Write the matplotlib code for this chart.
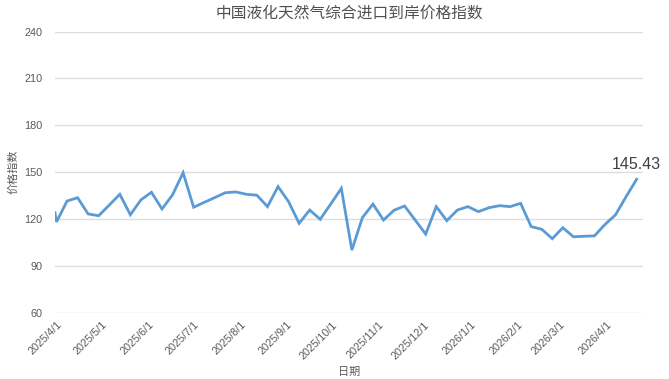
import matplotlib
matplotlib.use("Agg")
import matplotlib.pyplot as plt
import numpy as np
import pandas as pd

# weekly index values
first_date = "2025-03-31"
week_start = "2025-04-01"
first_value = 124.0
weekly_values = [
    118.1, 131.5, 133.6, 123.2, 122.1, 128.9, 135.8, 122.7, 132.2, 137.1,
    126.4, 135.4, 149.6, 127.5, 130.6, 133.7, 136.8, 137.3, 135.8, 135.2,
    127.9, 140.7, 131.1, 117.2, 125.7, 119.8, 129.6, 139.6, 100.1, 120.9,
    129.5, 119.3, 125.6, 128.3, 119.3, 110.3, 127.9, 118.9, 125.7, 127.9,
    124.7, 127.2, 128.5, 127.9, 130.0, 115.1, 113.4, 107.4, 114.4, 108.6,
    108.9, 109.2, 116.5, 122.7, 134.3, 145.43,
]
tick_dates = pd.date_range("2025-04-01", "2026-04-01", freq="MS")
y_ticks = [60, 90, 120, 150, 180, 210, 240]

dates = [pd.Timestamp(first_date)] + list(
    pd.date_range(week_start, periods=len(weekly_values), freq="7D"))
values = [first_value] + weekly_values

plt.rcParams["font.family"] = ["Liberation Sans", "Noto Sans CJK SC"]
cjk = ["Noto Sans CJK SC", "DejaVu Sans"]

fig = plt.figure(figsize=(6.69, 3.79), dpi=100)
ax = fig.add_axes([55 / 669, 1 - 312.7 / 379, (642.7 - 55) / 669, (312.7 - 31.5) / 379])

ax.plot(dates, values, color="#5b9bd5", linewidth=2.0, solid_joinstyle="miter", zorder=3)

ax.annotate("%.2f" % values[-1], (dates[-1], values[-1]), xytext=(0, 5),
            textcoords="offset points", ha="center", va="bottom",
            fontsize=11.5, color="#404040")

ax.set_ylim(60, 240)
ax.set_yticks(y_ticks)
ax.set_xlim(pd.Timestamp(first_date), pd.Timestamp("2026-04-25"))
ax.set_xticks(tick_dates)
ax.set_xticklabels([f"{d.year}/{d.month}/{d.day}" for d in tick_dates],
                   rotation=45, ha="right", rotation_mode="anchor")

ax.grid(axis="y", color="#dedede", linewidth=1)
ax.set_axisbelow(True)
for s in ax.spines.values():
    s.set_visible(False)
ax.tick_params(axis="both", length=0, labelsize=7.8, labelcolor="#595959")
ax.tick_params(axis="y", pad=9)
ax.tick_params(axis="x", pad=5)

fig.text(349 / 669, 1 - 13.3 / 379, "中国液化天然气综合进口到岸价格指数", family=cjk,
         fontsize=11.3, color="#505050", ha="center", va="center")
ax.set_ylabel("价格指数", family=cjk, fontsize=8, color="#595959", labelpad=4)
ax.set_xlabel("日期", family=cjk, fontsize=8, color="#595959", labelpad=4)

fig.savefig("out.png", dpi=100)
